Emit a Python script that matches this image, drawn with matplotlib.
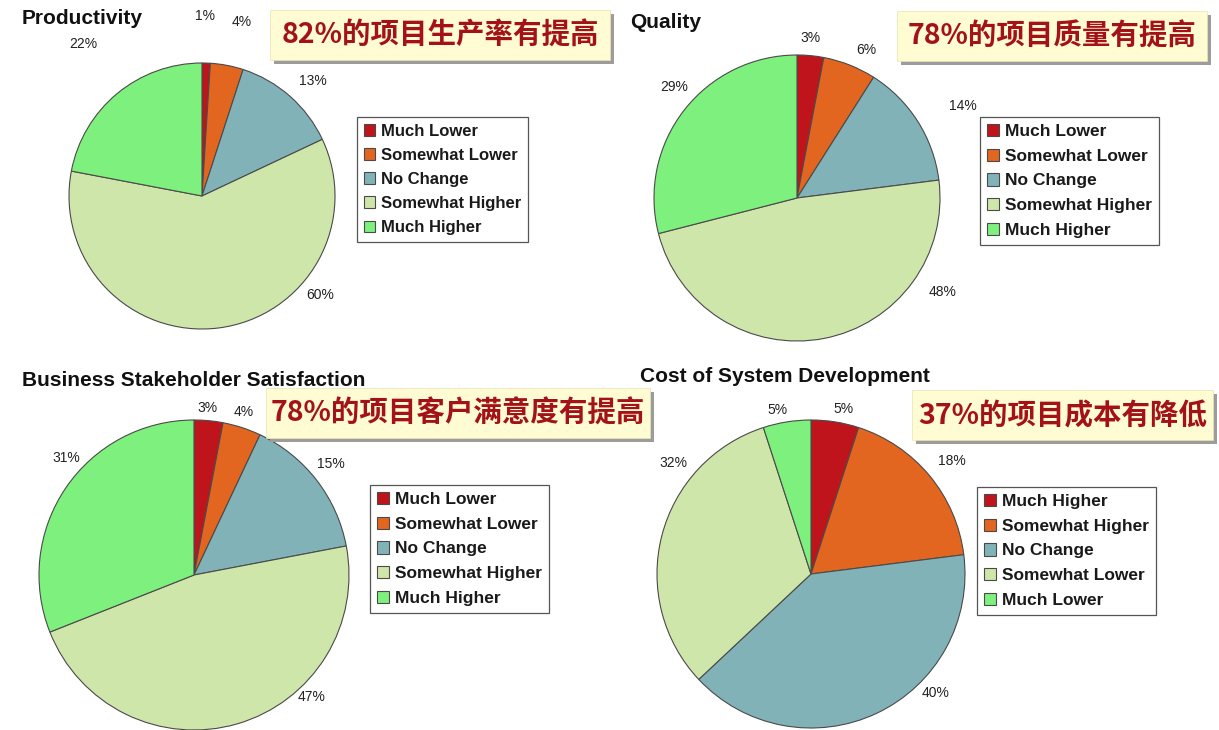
import numpy as np
import matplotlib
matplotlib.use('Agg')
import matplotlib.pyplot as plt
from matplotlib.patches import Rectangle

plt.rcParams['font.family'] = ['Liberation Sans', 'DejaVu Sans']

W, H = 1219, 730

# data
titles = ['Productivity', 'Quality', 'Business Stakeholder Satisfaction', 'Cost of System Development']
callouts = ['82%的项目生产率有提高', '78%的项目质量有提高', '78%的项目客户满意度有提高', '37%的项目成本有降低']
labels_up = ['Much Lower', 'Somewhat Lower', 'No Change', 'Somewhat Higher', 'Much Higher']
labels_cost = ['Much Higher', 'Somewhat Higher', 'No Change', 'Somewhat Lower', 'Much Lower']
productivity = [1, 4, 13, 60, 22]
quality = [3, 6, 14, 48, 29]
satisfaction = [3, 4, 15, 47, 31]
cost = [5, 18, 40, 32, 5]

colors = ['#c0141c', '#e2661f', '#80b2b8', '#cfe6ab', '#7ef07e']

# layout in pixels (center x, center y, radius)
pies = [(202, 196, 133), (797, 198, 143), (194, 575, 155), (811, 574, 154)]
# label placement: (angle deg, distance in radii)
label_pos = [
    [(89, 1.35), (77, 1.34), (46, 1.20), (-40, 1.16), (128, 1.45)],
    [(85, 1.12), (65, 1.14), (29, 1.33), (-33, 1.21), (138, 1.16)],
    [(85.5, 1.08), (73, 1.10), (39, 1.14), (-46, 1.09), (137.5, 1.12)],
    [(79, 1.09), (38.7, 1.17), (-43.8, 1.12), (141, 1.15), (101.6, 1.09)],
]
legend_pos = [(357, 117, 12), (980, 117, 12.5), (370, 485, 12.5), (977, 487, 12.5)]
title_pos = [(22, 18), (630, 22), (22, 380), (640, 376)]
box_pos = [(270, 10, 340, 50), (897, 11, 310, 50), (266, 388, 384, 50), (912, 390, 301, 50)]

fig = plt.figure(figsize=(W / 100, H / 100), dpi=100)
fig.patch.set_facecolor('white')

all_values = [productivity, quality, satisfaction, cost]
all_labels = [labels_up, labels_up, labels_up, labels_cost]

for i, vals in enumerate(all_values):
    cx, cy, r = pies[i]
    ax = fig.add_axes([(cx - r) / W, (H - cy - r) / H, 2 * r / W, 2 * r / H])
    wedges, _ = ax.pie(vals, colors=colors, startangle=90, counterclock=False, radius=1,
                       wedgeprops=dict(edgecolor='#4a4a4a', linewidth=0.8))
    ax.set_xlim(-1, 1)
    ax.set_ylim(-1, 1)
    for v, (ang, d) in zip(vals, label_pos[i]):
        a = np.deg2rad(ang)
        ax.text(d * np.cos(a), d * np.sin(a), f'{v}%', ha='center', va='center',
                fontsize=10, color='#222222', clip_on=False)
    lx, ly, fs = legend_pos[i]
    leg = ax.legend(wedges, all_labels[i], loc='upper left',
                    bbox_to_anchor=(lx / W, 1 - ly / H), bbox_transform=fig.transFigure,
                    prop=dict(size=fs, weight='bold'), frameon=True, fancybox=False,
                    framealpha=1, edgecolor='#555555', borderpad=0.4, labelspacing=0.55,
                    handlelength=0.7, handleheight=0.7, handletextpad=0.35,
                    borderaxespad=0)
    leg.get_frame().set_linewidth(0.9)
    for t in leg.get_texts():
        t.set_color('#1a1a1a')

# overlay for titles and callout boxes (pixel coordinates)
ov = fig.add_axes([0, 0, 1, 1])
ov.set_xlim(0, W)
ov.set_ylim(H, 0)
ov.axis('off')
ov.patch.set_alpha(0)

for t, (tx, ty) in zip(titles, title_pos):
    ov.text(tx, ty, t, ha='left', va='center', fontsize=15, fontweight='bold', color='#111111')

for txt, (bx, by, bw, bh) in zip(callouts, box_pos):
    ov.add_patch(Rectangle((bx + 4, by + 4), bw, bh, facecolor='#9c9c9c', edgecolor='none'))
    ov.add_patch(Rectangle((bx, by), bw, bh, facecolor='#fffbd3', edgecolor='#e8e4b0', linewidth=0.5))
    ov.text(bx + bw / 2, by + bh / 2 + 1, txt, ha='center', va='center', fontsize=20.5,
            fontweight='bold', color='#a3121a', family=['Noto Sans CJK SC', 'DejaVu Sans'])

fig.savefig('out.png', dpi=100)
